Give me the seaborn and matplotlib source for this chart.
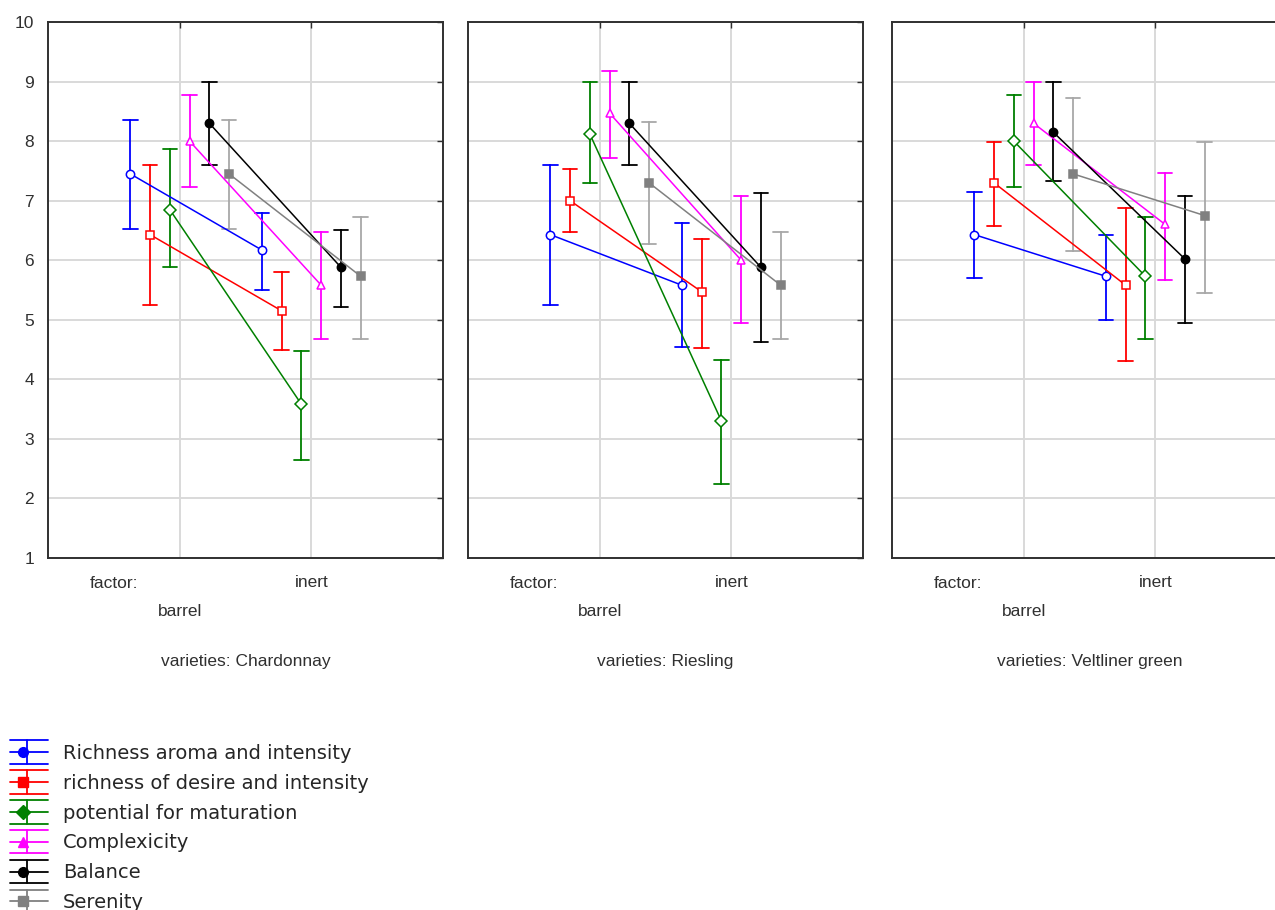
import numpy as np
import pandas as pd
import matplotlib
matplotlib.use("Agg")
import matplotlib.pyplot as plt
import matplotlib.colors as mcolors
from matplotlib.legend_handler import HandlerBase
from matplotlib.lines import Line2D
import seaborn as sns

varieties = ["Chardonnay", "Riesling", "Veltliner green"]
factor_levels = ["barrel", "inert"]
attributes = ["Richness aroma and intensity", "richness of desire and intensity",
              "potential for maturation", "Complexicity", "Balance", "Serenity"]

# per attribute: [barrel, inert]
mean_chardonnay = [[7.45, 6.17], [6.43, 5.15], [6.85, 3.58], [8.00, 5.58], [8.30, 5.88], [7.45, 5.73]]
low_chardonnay = [[6.52, 5.50], [5.25, 4.50], [5.88, 2.65], [7.23, 4.68], [7.60, 5.22], [6.53, 4.68]]
high_chardonnay = [[8.35, 6.80], [7.60, 5.80], [7.87, 4.48], [8.77, 6.47], [9.00, 6.50], [8.35, 6.73]]

mean_riesling = [[6.43, 5.58], [7.00, 5.47], [8.12, 3.30], [8.47, 6.00], [8.30, 5.88], [7.30, 5.58]]
low_riesling = [[5.25, 4.55], [6.47, 4.53], [7.30, 2.25], [7.72, 4.95], [7.60, 4.63], [6.27, 4.68]]
high_riesling = [[7.60, 6.62], [7.53, 6.35], [9.00, 4.33], [9.18, 7.07], [9.00, 7.13], [8.32, 6.47]]

mean_veltliner = [[6.43, 5.73], [7.30, 5.58], [8.00, 5.73], [8.30, 6.60], [8.15, 6.02], [7.45, 6.75]]
low_veltliner = [[5.70, 5.00], [6.58, 4.30], [7.23, 4.68], [7.60, 5.67], [7.33, 4.95], [6.15, 5.45]]
high_veltliner = [[7.15, 6.42], [7.98, 6.88], [8.77, 6.72], [9.00, 7.47], [9.00, 7.07], [8.73, 7.98]]

means = [mean_chardonnay, mean_riesling, mean_veltliner]
lows = [low_chardonnay, low_riesling, low_veltliner]
highs = [high_chardonnay, high_riesling, high_veltliner]

colors = ["#0000ff", "#ff0000", "#008000", "#ff00ff", "#000000", "#808080"]
markers = ["o", "s", "D", "^", "o", "s"]
open_marker = [True, True, True, True, False, False]

rows = []
for v, var in enumerate(varieties):
    for a, att in enumerate(attributes):
        for f, fac in enumerate(factor_levels):
            for val in (lows[v][a][f], means[v][a][f], highs[v][a][f]):
                rows.append({"variety": var, "attribute": att, "factor": fac, "score": val})
df = pd.DataFrame(rows)

sns.set_style("white")
plt.rcParams["font.family"] = ["Liberation Sans", "DejaVu Sans"]

TXT = "#303030"
fig = plt.figure(figsize=(12.75, 9.1), dpi=100)
W, H = 1275, 910
lefts = [48, 468, 892]
pw, top, bot = 395, 22, 558
ph = bot - top

handles = None
for i, var in enumerate(varieties):
    ax = fig.add_axes([lefts[i] / W, 1 - bot / H, pw / W, ph / H])
    sub = df[df["variety"] == var]
    sns.pointplot(data=sub, x="factor", y="score", hue="attribute",
                  order=factor_levels, hue_order=attributes, palette=colors,
                  markers=markers, linestyles="-", dodge=0.75,
                  estimator=np.median, errorbar=lambda s: (s.min(), s.max()),
                  capsize=0.11, err_kws={"linewidth": 1.3}, linewidth=1.1,
                  markersize=6, legend=False, ax=ax)
    main = [l for l in ax.lines if l.get_marker() not in (None, "None", "", " ")]
    for k, ln in enumerate(main[:len(attributes)]):
        if open_marker[k]:
            ln.set_markerfacecolor("white")
        ln.set_markeredgewidth(1.1)
        ln.set_zorder(3 + k * 0.01)
    for ln in ax.lines:
        if ln not in main and mcolors.to_hex(ln.get_color()) == "#808080":
            ln.set_color("#a8a8a8")
    if i == 0:
        handles = main[:len(attributes)]
    ax.set_xlim(-1, 2)
    ax.set_ylim(1, 10)
    ax.set_yticks(range(1, 11))
    ax.set_xticks([0, 1])
    ax.set_xticklabels(["", "inert"])
    ax.grid(True, color="#d9d9d9", linewidth=1.4)
    ax.set_axisbelow(True)
    ax.tick_params(direction="in", top=True, right=True, length=4, width=1,
                   color=TXT, labelsize=12.5, labelcolor=TXT, pad=10)
    ax.tick_params(axis="x", pad=12)
    if i > 0:
        ax.tick_params(labelleft=False)
    for s in ax.spines.values():
        s.set_color(TXT)
        s.set_linewidth(1.4)
    ax.set_ylabel("")
    ax.set_xlabel(f"varieties: {var}", fontsize=12.5, color=TXT, labelpad=46)
    tr = ax.get_xaxis_transform()
    ax.text(-0.5, -26 / ph, "factor:", transform=tr, ha="center", va="center",
            fontsize=12.5, color=TXT)
    ax.text(0, -53 / ph, "barrel", transform=tr, ha="center", va="center",
            fontsize=12.5, color=TXT)


class ErrGlyph(HandlerBase):
    def create_artists(self, legend, orig, xd, yd, width, height, fontsize, trans):
        c = orig.get_color()
        x0, x1 = -xd, -xd + width
        ym = -yd + height / 2
        cap = 8.5
        xv = x0 + width * 0.45
        arts = [
            Line2D([x0, x1], [ym, ym], color=c, lw=1.3),
            Line2D([x0, x1], [ym + cap, ym + cap], color=c, lw=1.3),
            Line2D([x0, x1], [ym - cap, ym - cap], color=c, lw=1.3),
            Line2D([xv, xv], [ym - cap, ym + cap], color=c, lw=1.3),
            Line2D([x0 + width * 0.33], [ym], marker=orig.get_marker(),
                   color=c, mfc=c, ms=7, lw=0),
        ]
        for a in arts:
            a.set_transform(trans)
        return arts


fig.legend(handles=handles, labels=attributes, loc="upper left",
           bbox_to_anchor=(0.002, 1 - 736 / H), frameon=False,
           prop={"family": "DejaVu Sans", "size": 14}, labelspacing=0.56,
           handlelength=1.95, handletextpad=0.75, borderaxespad=0,
           handler_map={Line2D: ErrGlyph()})

fig.savefig("out.png", dpi=100)
